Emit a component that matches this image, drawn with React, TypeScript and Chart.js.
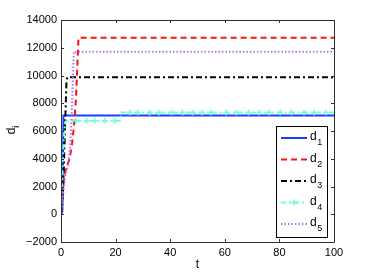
import React, { useEffect, useRef } from "react";
import { Chart, registerables } from "chart.js";

Chart.register(...registerables);

// ---- data ----
const xTicks = [0, 20, 40, 60, 80, 100];
const yTicks = [-2000, 0, 2000, 4000, 6000, 8000, 10000, 12000, 14000];

const d1T = [0, 0.5, 0.9, 100];
const d1V = [0, 200, 7120, 7120];

const d2T = [0, 0.5, 1, 1.5, 2, 3, 3.5, 4, 4.5, 5, 5.5, 6, 6.4, 100];
const d2V = [0, 1200, 2400, 3000, 3400, 3900, 4400, 5000, 5900, 6900, 8400, 10800, 12720, 12720];

const d3T = [0, 0.5, 1, 1.5, 2, 2.3, 100];
const d3V = [0, 800, 3000, 6500, 9500, 9880, 9880];

const d4T = [0, 0.3, 0.6, 1, 1.5, 2, 21.8, 22, 100];
const d4V = [0, 1500, 3500, 5500, 6500, 6740, 6740, 7330, 7330];
const d4MarkT = [5.5, 9.4, 12.4, 16, 19.7, 25.2, 28.1, 32.5, 35.8, 40.5, 44.5, 48.2, 51.6, 55, 60.5, 64.3, 68.7, 72.6, 76.3, 80.3, 84.4, 89, 92.7, 97];
const d4MarkV = [6740, 6740, 6740, 6740, 6740, 7330, 7330, 7330, 7330, 7330, 7330, 7330, 7330, 7330, 7330, 7330, 7330, 7330, 7330, 7330, 7330, 7330, 7330, 7330];

const d5T = [0, 0.8, 1.5, 2.5, 3.2, 3.8, 4.3, 4.7, 100];
const d5V = [0, 1500, 2700, 3500, 4600, 6500, 9500, 11720, 11720];

const seriesNames = ["1", "2", "3", "4", "5"];
const seriesColors = ["#1c3cff", "#ff1010", "#000000", "#70ffd8", "#b070ff"];
const seriesDash: number[][] = [[], [6, 4], [6, 3, 2, 3], [5, 3, 2, 3], [1.5, 2]];

const FONT = "'Liberation Sans', Arial, Helvetica, sans-serif";

function pts(t: number[], v: number[]) {
  return t.map((x, i) => ({ x, y: v[i] }));
}

function fmt(v: number) {
  return v < 0 ? "\u2212" + Math.abs(v) : String(v);
}

const framePlugin = {
  id: "framePlugin",
  afterDraw(chart: any) {
    const ctx = chart.ctx;
    const { left, right, top, bottom } = chart.chartArea;
    const xs = chart.scales.x;
    const ys = chart.scales.y;
    ctx.save();
    ctx.strokeStyle = "#303030";
    ctx.lineWidth = 1;
    ctx.setLineDash([]);
    ctx.beginPath();
    ctx.rect(Math.round(left) + 0.5, Math.round(top) + 0.5, Math.round(right - left), Math.round(bottom - top));
    ctx.stroke();
    const tl = 3;
    ctx.beginPath();
    for (const v of xTicks) {
      const px = Math.round(xs.getPixelForValue(v)) + 0.5;
      ctx.moveTo(px, bottom);
      ctx.lineTo(px, bottom - tl);
      ctx.moveTo(px, top);
      ctx.lineTo(px, top + tl);
    }
    for (const v of yTicks) {
      const py = Math.round(ys.getPixelForValue(v)) + 0.5;
      ctx.moveTo(left, py);
      ctx.lineTo(left + tl, py);
      ctx.moveTo(right, py);
      ctx.lineTo(right - tl, py);
    }
    ctx.stroke();

    // axis titles
    ctx.fillStyle = "#000";
    ctx.font = `12px ${FONT}`;
    ctx.textAlign = "center";
    ctx.textBaseline = "middle";
    ctx.fillText("t", (left + right) / 2, 265);

    ctx.save();
    ctx.translate(15, (top + bottom) / 2 - 2);
    ctx.rotate(-Math.PI / 2);
    ctx.textAlign = "left";
    ctx.textBaseline = "alphabetic";
    ctx.font = `12px ${FONT}`;
    const dw = ctx.measureText("d").width;
    ctx.fillText("d", -dw / 2 - 2, 0);
    ctx.font = `9px ${FONT}`;
    ctx.fillText("i", dw / 2 - 2, 4);
    ctx.restore();

    // legend
    const lx = 276, ly = 126, lw = 51, lh = 111;
    ctx.fillStyle = "#fff";
    ctx.fillRect(lx, ly, lw, lh);
    ctx.strokeStyle = "#000";
    ctx.lineWidth = 1;
    ctx.strokeRect(lx + 0.5, ly + 0.5, lw, lh);
    const rowY = [138, 159.5, 181, 202.5, 224];
    for (let i = 0; i < 5; i++) {
      const y = rowY[i];
      ctx.strokeStyle = seriesColors[i];
      ctx.lineWidth = 2;
      ctx.setLineDash(seriesDash[i]);
      ctx.beginPath();
      ctx.moveTo(281, y);
      ctx.lineTo(307, y);
      ctx.stroke();
      ctx.setLineDash([]);
      if (i === 3) {
        ctx.lineWidth = 1.5;
        ctx.beginPath();
        ctx.moveTo(294, y - 3);
        ctx.lineTo(294, y + 3);
        ctx.moveTo(291, y);
        ctx.lineTo(297, y);
        ctx.stroke();
      }
      ctx.fillStyle = "#000";
      ctx.textAlign = "left";
      ctx.textBaseline = "alphabetic";
      ctx.font = `12px ${FONT}`;
      ctx.fillText("d", 310, y + 2);
      const w = ctx.measureText("d").width;
      ctx.font = `9px ${FONT}`;
      ctx.fillText(seriesNames[i], 310 + w + 0.5, y + 7);
    }
    ctx.restore();
  },
};

export default function App() {
  const ref = useRef<HTMLCanvasElement | null>(null);
  useEffect(() => {
    if (!ref.current) return;
    const lineBase = (i: number) => ({
      borderColor: seriesColors[i],
      backgroundColor: seriesColors[i],
      borderWidth: 2,
      borderDash: seriesDash[i],
      pointRadius: 0,
      fill: false,
      tension: 0,
      order: 6 - i,
    });
    const chart = new Chart(ref.current, {
      type: "line",
      data: {
        datasets: [
          { label: "d1", data: pts(d1T, d1V), ...lineBase(0) },
          { label: "d2", data: pts(d2T, d2V), ...lineBase(1) },
          { label: "d3", data: pts(d3T, d3V), ...lineBase(2) },
          { label: "d4", data: pts(d4T, d4V), ...lineBase(3) },
          {
            label: "d4 markers",
            data: pts(d4MarkT, d4MarkV),
            showLine: false,
            pointStyle: "cross",
            pointRadius: 3,
            pointBorderWidth: 1.5,
            borderColor: seriesColors[3],
            backgroundColor: seriesColors[3],
            order: 2,
          } as any,
          { label: "d5", data: pts(d5T, d5V), ...lineBase(4) },
        ],
      },
      options: {
        animation: false,
        responsive: false,
        events: [],
        layout: { padding: { left: 0, top: 20, right: 35, bottom: 0 } },
        plugins: { legend: { display: false }, tooltip: { enabled: false } },
        scales: {
          x: {
            type: "linear",
            min: 0,
            max: 100,
            afterFit: (s: any) => { s.height = 31; },
            afterBuildTicks: (s: any) => { s.ticks = xTicks.map((v) => ({ value: v })); },
            grid: { display: false, drawTicks: false },
            border: { display: false },
            ticks: { color: "#000", font: { family: FONT, size: 11 }, padding: 4, maxRotation: 0, callback: (v: any) => fmt(Number(v)) },
          },
          y: {
            type: "linear",
            min: -2000,
            max: 14000,
            afterFit: (s: any) => { s.width = 61; },
            afterBuildTicks: (s: any) => { s.ticks = yTicks.map((v) => ({ value: v })); },
            grid: { display: false, drawTicks: false },
            border: { display: false },
            ticks: { color: "#000", font: { family: FONT, size: 11 }, padding: 4, callback: (v: any) => fmt(Number(v)) },
          },
        },
      },
      plugins: [framePlugin],
    } as any);
    return () => chart.destroy();
  }, []);
  return (
    <div style={{ position: "absolute", left: 0, top: 0, width: 369, height: 273, background: "#fff" }}>
      <canvas ref={ref} width={369} height={273} style={{ display: "block", width: 369, height: 273 }} />
    </div>
  );
}
